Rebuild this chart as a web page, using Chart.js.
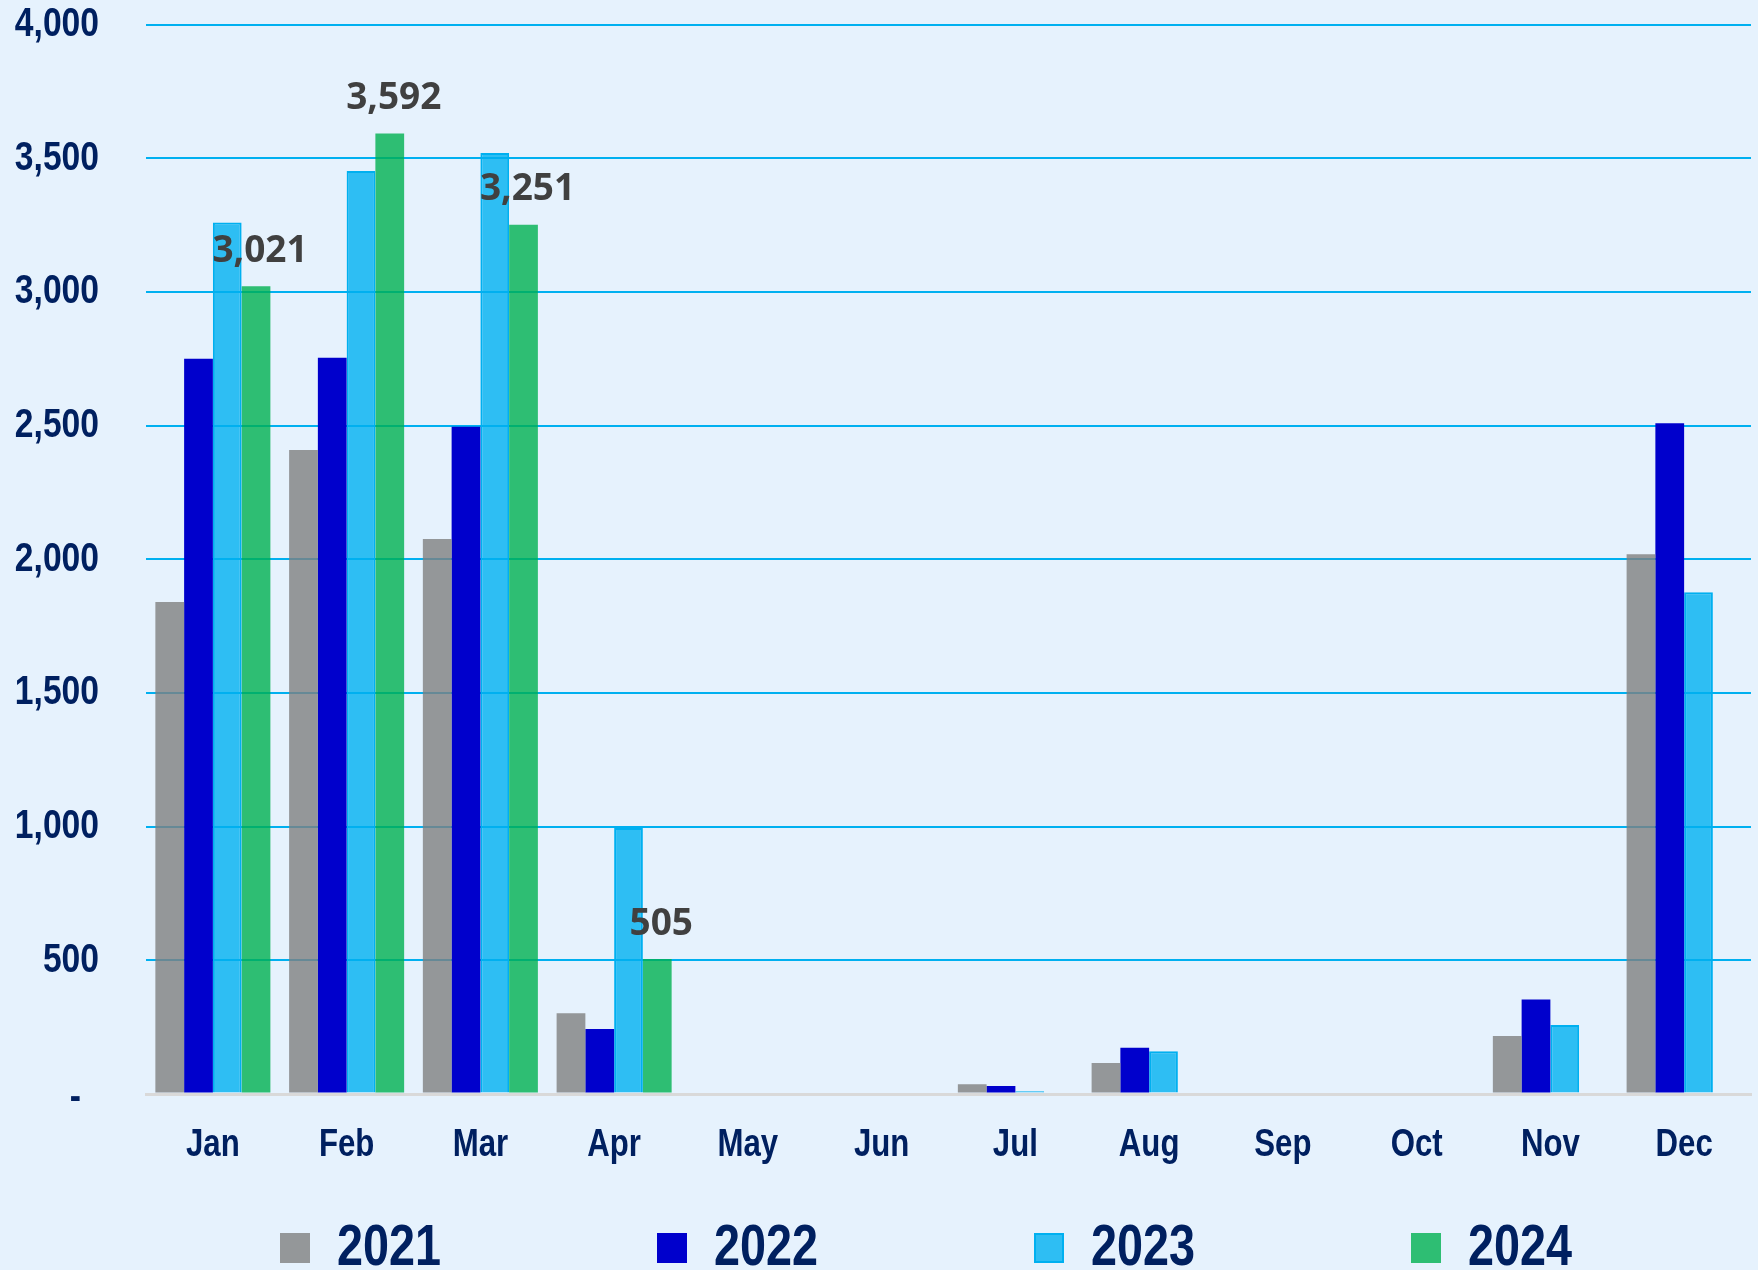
<!DOCTYPE html>
<html>
<head>
<meta charset="utf-8">
<title>Monthly totals 2021-2024</title>
<script src="https://cdn.jsdelivr.net/npm/chart.js@4.4.1/dist/chart.umd.min.js"></script>
<style>
    html, body { margin: 0; padding: 0; background: #e6f2fd; }
    #chartBox { width: 1758px; height: 1270px; }
</style>
</head>
<body>
<div id="chartBox"><canvas id="bar-chart" width="1758" height="1270"></canvas></div>
<script>
// DATA ===========================================================
var months = ['Jan', 'Feb', 'Mar', 'Apr', 'May', 'Jun', 'Jul', 'Aug', 'Sep', 'Oct', 'Nov', 'Dec'];
var yearLabels = ['2021', '2022', '2023', '2024'];
var values2021 = [1840, 2409, 2076, 302, null, null, 36, 116, null, null, 217, 2019];
var values2022 = [2750, 2754, 2496, 243, null, null, 30, 173, null, null, 353, 2509];
var values2023 = [3259, 3452, 3519, 995, null, null, 10, 160, null, null, 258, 1877];
var values2024 = [3021, 3592, 3251, 505, null, null, null, null, null, null, null, null];
var yTicks = [0, 500, 1000, 1500, 2000, 2500, 3000, 3500, 4000];

var navy = '#002060';
var axisFont = '"Liberation Sans", Arial, sans-serif';
var squeeze = 0.82; // no narrow face installed, so squeeze the bold face

function narrowText(ctx, text, x, y) {
    ctx.save();
    ctx.translate(x, y);
    ctx.scale(squeeze, 1);
    ctx.fillText(text, 0, 0);
    ctx.restore();
}

// tick labels in a condensed look
var axisLabels = {
    id: 'axisLabels',
    afterDraw: function (chart) {
        var ctx = chart.ctx;
        var xs = chart.scales.x;
        var ys = chart.scales.y;
        ctx.save();
        ctx.fillStyle = navy;
        ctx.textBaseline = 'middle';

        ctx.font = 'bold 41px ' + axisFont;
        ctx.textAlign = 'right';
        ys.ticks.forEach(function (t) {
            var y = ys.getPixelForValue(t.value);
            if (t.value === 0) {
                narrowText(ctx, '-', 81, y + 4);
            } else {
                narrowText(ctx, t.value.toLocaleString('en-US'), 99, y);
            }
        });

        ctx.font = 'bold 38px ' + axisFont;
        ctx.textAlign = 'center';
        months.forEach(function (m, i) {
            narrowText(ctx, m, xs.getPixelForTick(i), 1146);
        });
        ctx.restore();
    }
};

// value labels of the 2024 series
var valueLabels = {
    id: 'valueLabels',
    afterDatasetsDraw: function (chart) {
        var ctx = chart.ctx;
        var meta = chart.getDatasetMeta(3);
        ctx.save();
        ctx.font = 'bold 37px "Open Sans", sans-serif';
        ctx.fillStyle = '#404040';
        ctx.textAlign = 'center';
        ctx.textBaseline = 'middle';
        meta.data.forEach(function (bar, i) {
            var v = values2024[i];
            if (v === null) return;
            ctx.fillText(v.toLocaleString('en-US'), bar.x + 4, bar.y - 35);
        });
        ctx.restore();
    }
};

// legend row at the bottom
var yearLegend = {
    id: 'yearLegend',
    afterDraw: function (chart) {
        var ctx = chart.ctx;
        ctx.save();
        ctx.font = 'bold 57px ' + axisFont;
        ctx.textBaseline = 'middle';
        ctx.textAlign = 'left';
        chart.data.datasets.forEach(function (ds, i) {
            var x = 280 + i * 377;
            var y = 1248;
            ctx.fillStyle = ds.backgroundColor;
            ctx.fillRect(x, y - 15, 30, 30);
            if (ds.borderWidth) {
                ctx.strokeStyle = ds.borderColor;
                ctx.lineWidth = 2;
                ctx.strokeRect(x + 1, y - 14, 28, 28);
            }
            ctx.fillStyle = navy;
            narrowText(ctx, ds.label, x + 57, y + 1);
        });
        ctx.restore();
    }
};

new Chart(document.getElementById('bar-chart'), {
    type: 'bar',
    data: {
        labels: months,
        datasets: [
            { label: yearLabels[0], data: values2021, backgroundColor: 'rgba(127,127,127,0.8)', borderWidth: 0 },
            { label: yearLabels[1], data: values2022, backgroundColor: '#0000cc', borderWidth: 0 },
            { label: yearLabels[2], data: values2023, backgroundColor: 'rgba(0,176,240,0.8)', borderColor: '#00b0f0', borderWidth: 2 },
            { label: yearLabels[3], data: values2024, backgroundColor: 'rgba(0,176,80,0.8)', borderWidth: 0 }
        ]
    },
    options: {
        responsive: false,
        animation: false,
        devicePixelRatio: 1,
        categoryPercentage: 0.86,
        barPercentage: 1,
        layout: { padding: { top: 24.5, right: 7, bottom: 176, left: 146 } },
        plugins: {
            legend: { display: false },
            tooltip: { enabled: false }
        },
        scales: {
            x: {
                grid: { display: false, drawTicks: false },
                border: { display: true, color: '#d9d9d9', width: 3 },
                ticks: { display: false }
            },
            y: {
                min: 0,
                max: 4000,
                afterBuildTicks: function (scale) {
                    scale.ticks = yTicks.map(function (v) { return { value: v }; });
                },
                grid: {
                    drawTicks: false,
                    lineWidth: function (c) { return c.tick && c.tick.value === 0 ? 3 : 2; },
                    color: function (c) { return c.tick && c.tick.value === 0 ? '#d9d9d9' : '#00b0f0'; }
                },
                border: { display: false },
                ticks: { display: false }
            }
        }
    },
    plugins: [valueLabels, axisLabels, yearLegend]
});
</script>
</body>
</html>
